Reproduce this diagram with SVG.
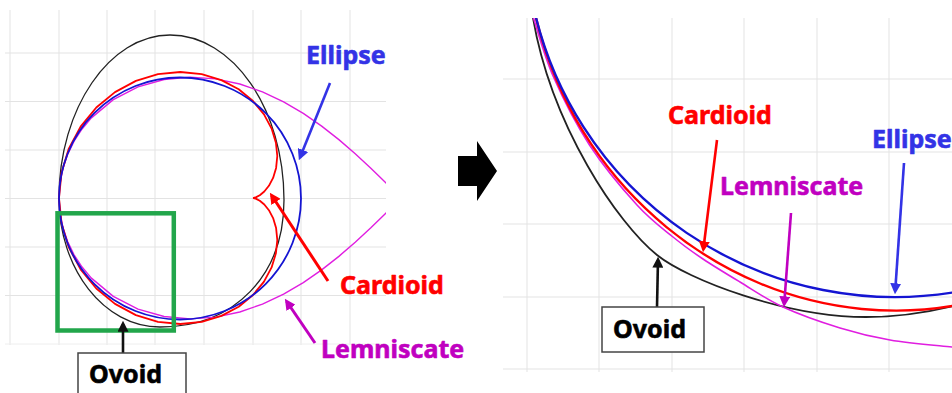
<svg xmlns="http://www.w3.org/2000/svg" width="952" height="393" viewBox="0 0 952 393">
<style>
.grid{stroke:#e3e3e3;stroke-width:1;fill:none}
.lbl{font-family:"Noto Sans","Liberation Sans",sans-serif;font-weight:bold;font-size:25px;stroke-width:0.6;stroke-linejoin:round}
.c-blue{fill:none;stroke:#1414d2;stroke-linejoin:round}
.c-red{fill:none;stroke:#ff0000;stroke-linejoin:round}
.c-mag{fill:none;stroke:#e01ee0;stroke-linejoin:round}
.c-blk{fill:none;stroke:#222;stroke-linejoin:round}
.box{fill:#fff;stroke:#444;stroke-width:1.5}
</style>
<defs>
<clipPath id="clipL"><rect x="0" y="0" width="386" height="393"/></clipPath>
<clipPath id="clipR"><rect x="503" y="18" width="449" height="375"/></clipPath>
<marker id="ahB" viewBox="0 0 10 10" refX="7" refY="5" markerWidth="11" markerHeight="11" markerUnits="userSpaceOnUse" orient="auto"><path d="M0,0 L10,5 L0,10 z" fill="#3333e6"/></marker>
<marker id="ahR" viewBox="0 0 10 10" refX="7" refY="5" markerWidth="11" markerHeight="11" markerUnits="userSpaceOnUse" orient="auto"><path d="M0,0 L10,5 L0,10 z" fill="#ff0000"/></marker>
<marker id="ahM" viewBox="0 0 10 10" refX="7" refY="5" markerWidth="11" markerHeight="11" markerUnits="userSpaceOnUse" orient="auto"><path d="M0,0 L10,5 L0,10 z" fill="#c000c0"/></marker>
<marker id="ahK" viewBox="0 0 10 10" refX="7" refY="5" markerWidth="11" markerHeight="11" markerUnits="userSpaceOnUse" orient="auto"><path d="M0,0 L10,5 L0,10 z" fill="#111"/></marker>
</defs>
<rect width="952" height="393" fill="#fff"/>

<!-- left grid -->
<g id="grid-left" class="grid">
<path d="M10,10V345M59,10V345M107,10V345M155,10V345M204,10V345M253,10V345M301,10V345M350,10V345"/>
<path d="M5,53H386M5,101.5H386M5,150H386M5,198.5H386M5,247H386M5,295.5H386"/>
<path d="M5,344H386" stroke="#eeeeee"/>
</g>

<!-- left curves -->
<g id="curves-left" clip-path="url(#clipL)">
<path id="ovoid-left" class="c-blk" stroke-width="1.3" d="M59,198 C59,108 110,35 170,35 C233,35 284,109 284,200 C284,275 235,327 160,327 C104,327 59,269 59,198 Z"/>
<path id="lemniscate-left" class="c-mag" stroke-width="1.4" d="M393.5,190.5 L386.04,183.1 370.85,168.31 355.21,153.77 338.88,139.63 321.65,126.08 303.29,113.38 283.61,101.84 262.46,91.87 239.78,84 215.61,78.83 190.2,77.09 164.06,79.53 138.01,86.86 113.28,99.59 91.39,117.87 82.05,128.97 74.06,141.23 67.61,154.48 62.87,168.53 59.97,183.1 59,198 59.97,212.9 62.87,227.47 67.61,241.52 74.06,254.77 82.05,267.03 91.39,278.13 113.28,296.41 138.01,309.14 164.06,316.47 190.2,318.91 215.61,317.17 239.78,312 262.46,304.13 283.61,294.16 303.29,282.62 321.65,269.92 338.88,256.37 355.21,242.23 370.85,227.69 386.04,212.9 393.5,205.5"/>
<path id="cardioid-left" class="c-red" stroke-width="1.8" d="M253,198 L253.8,197.9 256.2,197.1 259.8,195.2 264.3,191.5 268.9,185.8 273.1,177.9 276.1,167.9 277.3,156 275.9,142.7 271.6,128.6 264,114.4 253,101 238.7,89.3 221.4,80.1 201.7,74.1 180.3,72 158,74.2 135.9,80.9 115,92.1 96.3,107.5 80.6,126.6 68.8,148.6 61.5,172.8 59,198 61.5,223.2 68.8,247.4 80.6,269.4 96.3,288.5 115,303.9 135.9,315.1 158,321.8 180.3,324 201.7,321.9 221.4,315.9 238.7,306.7 253,295 264,281.6 271.6,267.4 275.9,253.3 277.3,240 276.1,228.1 273.1,218.1 268.9,210.2 264.3,204.5 259.8,200.8 256.2,198.9 253.8,198.1 253,198"/>
<circle id="ellipse-left" class="c-blue" stroke-width="1.8" cx="180" cy="198.5" r="121"/>
</g>

<g id="zoom-box">
<rect x="57.5" y="213.3" width="116.3" height="117.2" fill="none" stroke="#22a64b" stroke-width="4.5"/>
</g>

<!-- right grid -->
<g id="grid-right" class="grid">
<path d="M527,18V372M599,18V372M672,18V372M744,18V372M817,18V372M889,18V372"/>
<path d="M503,79H952M503,152H952M503,224H952M503,297H952M503,369H952"/>
</g>

<!-- right curves -->
<g id="curves-right" clip-path="url(#clipR)">
<path id="ovoid-right" class="c-blk" stroke-width="1.8" d="M529.5,-2 L533,18 C551.7,126.4 618,223.8 657,255 C688.2,280 786,317 866,317 C906,317 945,310 985,297"/>
<path id="lemniscate-right" class="c-mag" stroke-width="1.6" d="M527,-5 L533.5,18 C537.9,31.7 544.2,55.8 553.5,77 C562.8,98.2 575.6,123.7 589.5,145 C603.4,166.3 623.1,189.7 637,205 C650.9,220.3 662,228 673,237 C684,246 691.8,251.5 703,259 C714.2,266.5 726.7,274 740,282 C753.3,290 766.3,299.3 783,307 C799.7,314.7 822.2,322.5 840,328 C857.8,333.5 871.3,336.8 890,340 C908.7,343.2 935.3,345.3 952,347 C968.7,348.7 983.7,349.5 990,350"/>
<path id="cardioid-right" class="c-red" stroke-width="2.4" d="M524.8,-74.8 C524.8,2.9 548.6,80.3 590.9,143.7 C633.2,207.1 693.8,256 760.1,283.5 C826.4,311 898,316.9 961.4,304.3"/>
<path id="ellipse-right" class="c-blue" stroke-width="2.4" d="M532,0 A370.3,370.3 0 0 0 960,291.3"/>
</g>

<!-- big arrow -->
<g id="transition-arrow">
<polygon points="458,156 477,156 477,141 497,171 477,201 477,186 458,186" fill="#000"/>
</g>

<!-- connectors -->
<g id="connectors" fill="none">
<line x1="330" y1="83" x2="300.1" y2="157.2" stroke="#3333e6" stroke-width="2.6" marker-end="url(#ahB)"/>
<line x1="328" y1="281" x2="271.7" y2="195.5" stroke="#ff0000" stroke-width="3" marker-end="url(#ahR)"/>
<line x1="315" y1="343" x2="286.7" y2="301.5" stroke="#c000c0" stroke-width="3" marker-end="url(#ahM)"/>
<line x1="123" y1="353" x2="123" y2="324" stroke="#111" stroke-width="2.6" marker-end="url(#ahK)"/>
<line x1="717" y1="140" x2="703.4" y2="249" stroke="#ff0000" stroke-width="2.6" marker-end="url(#ahR)"/>
<line x1="791" y1="213" x2="784.2" y2="304" stroke="#c000c0" stroke-width="2.6" marker-end="url(#ahM)"/>
<line x1="904" y1="163" x2="895.2" y2="291" stroke="#3333e6" stroke-width="2.6" marker-end="url(#ahB)"/>
<line x1="657" y1="307" x2="658" y2="260" stroke="#111" stroke-width="2.6" marker-end="url(#ahK)"/>
</g>

<!-- labels -->
<g id="label-ellipse-left"><text class="lbl" x="306" y="64" fill="#3333e6" stroke="#3333e6">Ellipse</text></g>
<g id="label-cardioid-left"><text class="lbl" x="340" y="294" fill="#ff0000" stroke="#ff0000">Cardioid</text></g>
<g id="label-lemniscate-left"><text class="lbl" x="321" y="358" fill="#c000c0" stroke="#c000c0">Lemniscate</text></g>
<g id="label-ovoid-left"><rect class="box" x="78" y="353" width="108" height="50"/><text class="lbl" x="89" y="383" fill="#000" stroke="#000">Ovoid</text></g>

<g id="label-cardioid-right"><text class="lbl" x="668" y="124" fill="#ff0000" stroke="#ff0000">Cardioid</text></g>
<g id="label-lemniscate-right"><text class="lbl" x="720" y="195" fill="#c000c0" stroke="#c000c0">Lemniscate</text></g>
<g id="label-ellipse-right"><text class="lbl" x="872" y="148" fill="#3333e6" stroke="#3333e6">Ellipse</text></g>
<g id="label-ovoid-right"><rect class="box" x="602" y="307" width="102" height="45"/><text class="lbl" x="613" y="338" fill="#000" stroke="#000">Ovoid</text></g>
</svg>
